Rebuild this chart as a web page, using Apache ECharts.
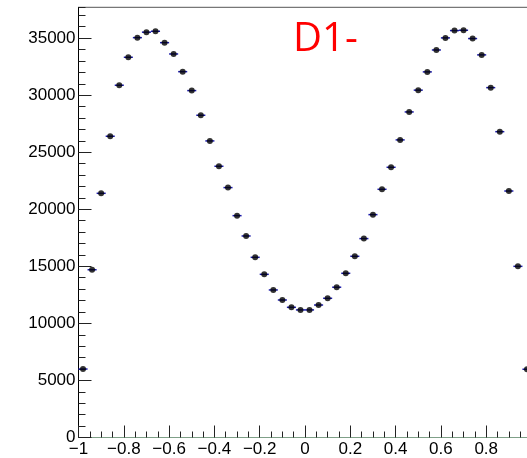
<!DOCTYPE html>
<html>
<head>
<meta charset="utf-8">
<script src="https://cdn.jsdelivr.net/npm/echarts@6/dist/echarts.min.js"></script>
<style>
    html, body { margin: 0; padding: 0; background: #fff; }
    #chart { width: 527px; height: 458px; }
</style>
</head>
<body>
<div id="chart"></div>
<script>
// bin centres (bin width 0.04)
const binCenters = [
    -0.98, -0.94, -0.90, -0.86, -0.82, -0.78, -0.74, -0.70, -0.66, -0.62,
    -0.58, -0.54, -0.50, -0.46, -0.42, -0.38, -0.34, -0.30, -0.26, -0.22,
    -0.18, -0.14, -0.10, -0.06, -0.02, 0.02, 0.06, 0.10, 0.14, 0.18,
    0.22, 0.26, 0.30, 0.34, 0.38, 0.42, 0.46, 0.50, 0.54, 0.58,
    0.62, 0.66, 0.70, 0.74, 0.78, 0.82, 0.86, 0.90, 0.94, 0.98
];
const counts = [
    6000, 14700, 21400, 26400, 30870, 33320, 35040, 35520, 35600, 34600,
    33610, 32060, 30400, 28240, 25990, 23770, 21900, 19440, 17660, 15790,
    14300, 12930, 12050, 11410, 11180, 11180, 11610, 12200, 13170, 14390,
    15880, 17430, 19530, 21750, 23680, 26080, 28530, 30440, 32040, 33960,
    35020, 35660, 35690, 34960, 33530, 30660, 26800, 21600, 15000, 5980
];
const halfWidth = 0.02;
const titleText = 'D1-';

const points = binCenters.map((x, i) => [x, counts[i]]);

const chart = echarts.init(document.getElementById('chart'));

const labelFont = {
    fontFamily: 'Liberation Sans',
    fontSize: 17,
    color: '#000'
};

const option = {
    animation: false,
    grid: {
        left: 78.5,
        right: -4.5,
        top: 7.3,
        bottom: 20.5,
        outerBoundsMode: 'none',
        containLabel: false,
        show: true,
        borderColor: '#555',
        borderWidth: 1,
        backgroundColor: 'transparent'
    },
    xAxis: {
        type: 'value',
        min: -1,
        max: 1,
        interval: 0.2,
        axisLine: { lineStyle: { color: '#7fa088', width: 1 } },
        axisTick: { inside: true, length: 12, lineStyle: { color: '#222' } },
        minorTick: { show: true, splitNumber: 4, length: 6, lineStyle: { color: '#222' } },
        splitLine: { show: false },
        axisLabel: Object.assign({
            margin: 3,
            formatter: v => String(+v.toFixed(1)).replace('-', '\u2212')
        }, labelFont)
    },
    yAxis: [
        {
            type: 'value',
            min: 0,
            max: 37700,
            interval: 5000,
            axisLine: { show: true, onZero: false, lineStyle: { color: '#000', width: 1 } },
            axisTick: { show: true, inside: true, length: 13, lineStyle: { color: '#222' } },
            splitLine: { show: false },
            axisLabel: Object.assign({
                margin: 3,
                showMaxLabel: false,
                formatter: v => String(v)
            }, labelFont)
        },
        {
            // minor ticks every 1000
            type: 'value',
            position: 'left',
            min: 0,
            max: 37700,
            interval: 1000,
            axisLine: { show: false, onZero: false },
            axisTick: { show: true, inside: true, length: 7, lineStyle: { color: '#222' } },
            splitLine: { show: false },
            axisLabel: { show: false }
        }
    ],
    graphic: [{
        type: 'text',
        left: 293,
        top: 20,
        style: {
            text: titleText,
            font: '40px "Open Sans"',
            fill: '#ff0000'
        }
    }],
    series: [
        {
            type: 'custom',
            data: points,
            renderItem: function (params, api) {
                const x = api.value(0);
                const y = api.value(1);
                const a = api.coord([x - halfWidth, y]);
                const b = api.coord([x + halfWidth, y]);
                return {
                    type: 'line',
                    shape: { x1: a[0], y1: a[1], x2: b[0], y2: b[1] },
                    style: { stroke: '#1a1aa8', lineWidth: 1.5 }
                };
            },
            z: 2
        },
        {
            type: 'scatter',
            data: points,
            symbol: 'circle',
            symbolSize: 6,
            itemStyle: { color: '#000' },
            z: 3
        }
    ]
};

chart.setOption(option);
</script>
</body>
</html>
